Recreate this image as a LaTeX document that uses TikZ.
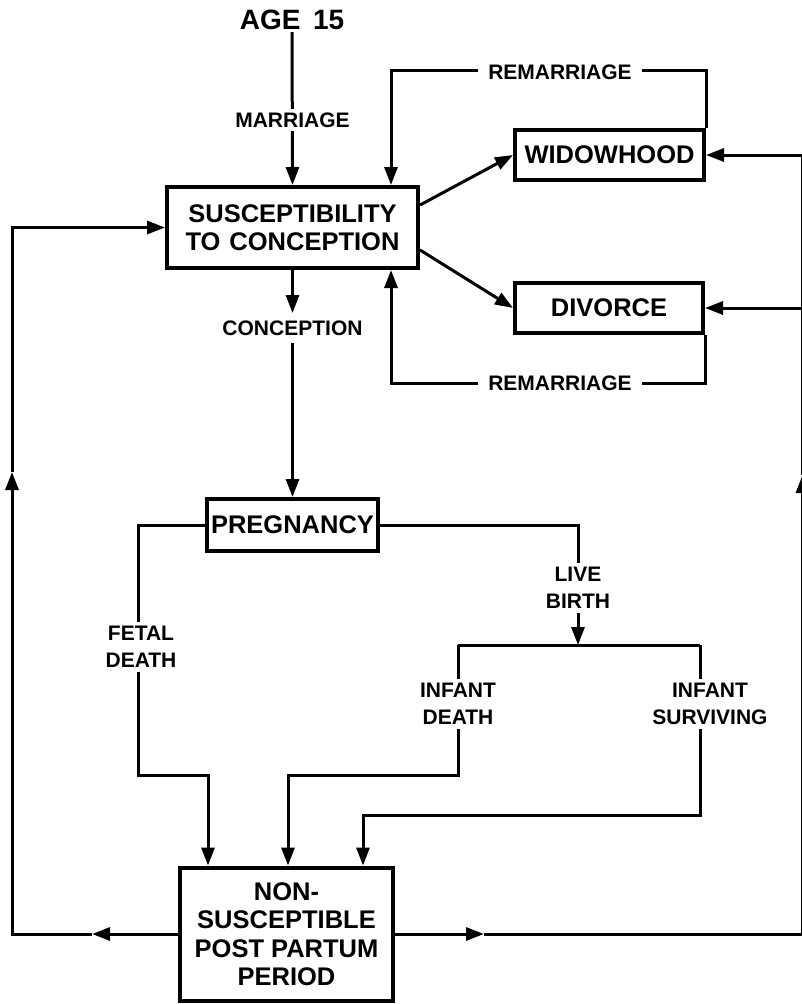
\documentclass[tikz,border=0pt]{standalone}
\usepackage{fontspec}
\setmainfont{Liberation Sans}
\usetikzlibrary{arrows.meta,calc}
\begin{document}
\begin{tikzpicture}[x=1pt,y=-1pt,
  arr/.style={-{Triangle[length=18pt,width=13pt]}},
  conn/.style={line width=3pt},
  stbox/.style={draw, line width=4pt, font=\bfseries\fontsize{25.5}{28.5}\selectfont, align=center, inner sep=0pt},
  lab/.style={fill=white, font=\bfseries\fontsize{21}{27}\selectfont, align=center, inner xsep=10pt, inner ysep=4pt},
]
\path[use as bounding box] (0,0) rectangle (801,1004);

% boxes
\node[font=\bfseries\fontsize{28}{30}\selectfont, inner sep=2pt] (age) at (292,20) {AGE\hspace{0.45em}15};
\node[stbox, minimum width=251pt, minimum height=81pt] (sus) at (292.5,227.5)
  {SUSCEPTIBILITY\\\makebox[214pt]{TO\hfill CONCEPTION}};
\node[stbox, minimum width=189pt, minimum height=50pt] (wid) at (609.5,155) {WIDOWHOOD};
\node[stbox, minimum width=188pt, minimum height=50pt] (div) at (609,308) {DIVORCE};
\node[stbox, minimum width=171pt, minimum height=52pt] (preg) at (292.5,525) {PREGNANCY};
\node[stbox, minimum width=213pt, minimum height=133pt] (nspp) at (286.5,934)
  {NON-\\SUSCEPTIBLE\\POST PARTUM\\PERIOD};

% coordinates
\coordinate (rmT) at (391,70);
\coordinate (rmB) at (391,383);
\coordinate (cA) at (292.5,313);
\coordinate (cB) at (292.5,343);
\coordinate (fd) at (138,775);
\coordinate (lb) at (578,645);
\coordinate (idL) at (458,645);
\coordinate (isR) at (700,645);
\coordinate (idB) at (458,775);
\coordinate (isB) at (700,815);
\coordinate (lA) at (92,934);
\coordinate (lC) at (12,934);
\coordinate (lU) at (12,472);
\coordinate (rA) at (484,934);
\coordinate (rC) at (802.5,934);
\coordinate (rU) at (802.5,475);
\coordinate (rW) at (802.5,155);
\coordinate (rD) at (802.5,308);

% connectors
\draw[conn,arr] (age) -- (sus.north);
\draw[conn,arr] (wid.north east) |- (rmT) -- (rmT |- sus.north);
\draw[conn,arr] (div.south east) |- (rmB) -- (rmB |- sus.south);
\draw[conn,arr] (sus.10) -- (wid.west);
\draw[conn,arr] (sus.-10) -- (div.west);
\draw[conn,arr] (sus.south) -- (cA);
\draw[conn,arr] (cB) -- (preg.north);
\draw[conn,arr] (preg.west) -| (fd) -| ($(nspp.north west)+(30,0)$);
\draw[conn,arr] (preg.east) -| (lb);
\draw[conn] (idL) -- (isR);
\draw[conn,arr] (idL) -- (idB) -| ($(nspp.north west)+(110,0)$);
\draw[conn,arr] (isR) -- (isB) -| ($(nspp.north west)+(185,0)$);
% left loop
\draw[conn,arr] (nspp.west) -- (lA);
\draw[conn,arr] (lA) -- (lC) -- (lU);
\draw[conn,arr] (lU) |- (sus.west);
% right loop
\draw[conn,arr] (nspp.east) -- (rA);
\draw[conn,arr] (rA) -- (rC) -- (rU);
\draw[conn] (rU) -- (rW);
\draw[conn,arr] (rW) -- (wid.east);
\draw[conn,arr] (rD) -- (div.east);

% labels
\node[lab] (mar) at (292.5,120) {MARRIAGE};
\node[lab] (rm1) at (560,72) {REMARRIAGE};
\node[lab] (rm2) at (560,383) {REMARRIAGE};
\node[lab] (conc) at (292.5,328) {CONCEPTION};
\node[lab] (fetal) at (141,647) {FETAL\\DEATH};
\node[lab] (live) at (578,588) {LIVE\\BIRTH};
\node[lab] (idth) at (458,704) {INFANT\\DEATH};
\node[lab] (isur) at (710,704) {INFANT\\SURVIVING};
\end{tikzpicture}
\end{document}
